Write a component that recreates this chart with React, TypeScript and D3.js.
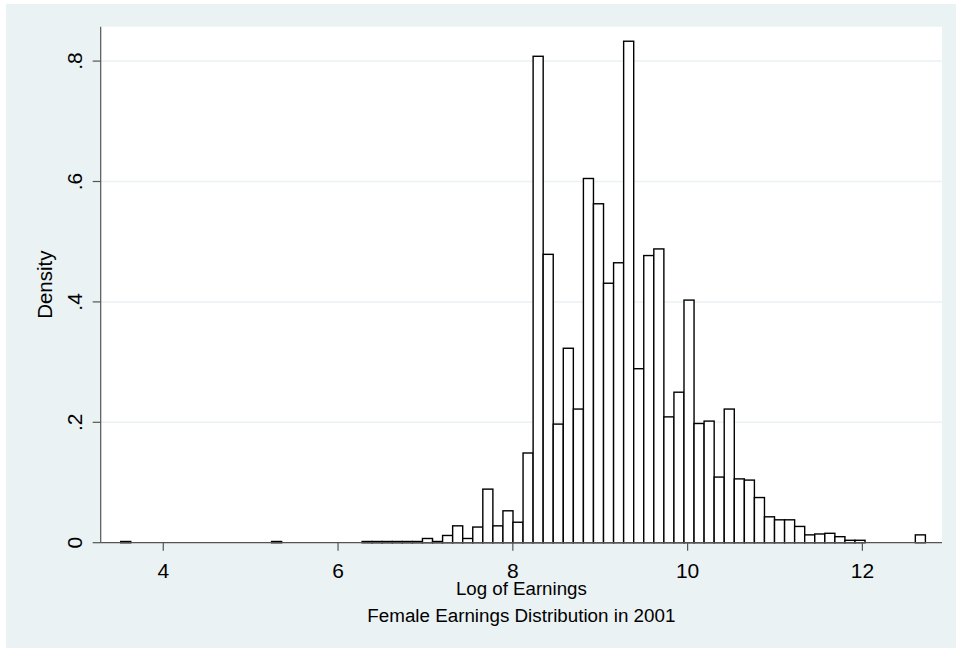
import React from "react";
import * as d3 from "d3";

// Histogram data (density per bin)
const binStart = 3.513;
const binWidth = 0.1151;
const densities = [
  0.002, 0, 0, 0, 0, 0, 0, 0, 0, 0,
  0, 0, 0, 0, 0, 0.002, 0, 0, 0, 0,
  0, 0, 0, 0, 0.002, 0.002, 0.002, 0.002, 0.002, 0.002,
  0.007, 0.002, 0.012, 0.028, 0.007, 0.026, 0.089, 0.028, 0.053, 0.034,
  0.149, 0.808, 0.479, 0.197, 0.323, 0.222, 0.605, 0.563, 0.431, 0.465,
  0.833, 0.289, 0.477, 0.488, 0.209, 0.25, 0.403, 0.198, 0.202, 0.109,
  0.222, 0.106, 0.104, 0.075, 0.043, 0.038, 0.038, 0.027, 0.013, 0.0145,
  0.0156, 0.01, 0.004, 0.004, 0, 0, 0, 0, 0, 0.013,
];
const xTicks = [4, 6, 8, 10, 12];
const yTicks = [0, 0.2, 0.4, 0.6, 0.8];
const yTickLabels = ["0", ".2", ".4", ".6", ".8"];
const xTitle = "Log of Earnings";
const yTitle = "Density";
const note = "Female Earnings Distribution in 2001";

const W = 956;
const H = 648;
const BG = "#EAF2F3";
const FONT = "'Liberation Sans', Arial, Helvetica, sans-serif";

export default function App() {
  const left = 100.7;
  const right = 942;
  const top = 26.7;
  const bottom = 542.7;
  const x = d3.scaleLinear().domain([3.284, 12.911]).range([left, right]);
  const y = d3.scaleLinear().domain([0, 0.8]).range([bottom, 61.1]);
  const cx = (left + right) / 2;

  const bins = densities
    .map((d, i) => ({ d, x0: binStart + i * binWidth, x1: binStart + (i + 1) * binWidth }))
    .filter((b) => b.d > 0);

  return (
    <svg
      width={W}
      height={H}
      style={{ position: "absolute", left: 0, top: 0 }}
      fontFamily={FONT}
    >
      <rect x={0} y={0} width={W} height={H} fill="#ffffff" />
      <rect x={6} y={4} width={W - 6} height={H - 4} fill={BG} />
      <rect x={left} y={top} width={right - left} height={bottom - top} fill="#ffffff" />
      {yTicks.slice(1).map((t) => (
        <line key={t} x1={left} x2={right} y1={y(t)} y2={y(t)} stroke={BG} strokeWidth={1.5} />
      ))}
      {bins.map((b, i) => (
        <rect
          key={i}
          x={x(b.x0)}
          y={y(b.d)}
          width={x(b.x1) - x(b.x0)}
          height={y(0) - y(b.d)}
          fill="#ffffff"
          stroke="#000000"
          strokeWidth={1.4}
        />
      ))}
      {/* axes */}
      <line x1={left} x2={left} y1={top} y2={bottom} stroke="#555" strokeWidth={1.2} />
      <line x1={left} x2={right} y1={bottom} y2={bottom} stroke="#555" strokeWidth={1.2} />
      {yTicks.map((t, i) => (
        <g key={t}>
          <line x1={left - 8} x2={left} y1={y(t)} y2={y(t)} stroke="#555" strokeWidth={1.2} />
          <text
            transform={`translate(${81.5},${y(t)}) rotate(-90)`}
            textAnchor="middle"
            fontSize={21}
            fill="#000"
          >
            {yTickLabels[i]}
          </text>
        </g>
      ))}
      {xTicks.map((t) => (
        <g key={t}>
          <line x1={x(t)} x2={x(t)} y1={bottom} y2={bottom + 8} stroke="#555" strokeWidth={1.2} />
          <text x={x(t)} y={577.5} textAnchor="middle" fontSize={21} fill="#000">
            {t}
          </text>
        </g>
      ))}
      <text
        transform={`translate(${52},${(top + bottom) / 2}) rotate(-90)`}
        textAnchor="middle"
        fontSize={20.5}
        fill="#000"
      >
        {yTitle}
      </text>
      <text x={cx} y={595} textAnchor="middle" fontSize={18.7} fill="#000">
        {xTitle}
      </text>
      <text x={cx} y={621.5} textAnchor="middle" fontSize={18.8} fill="#000">
        {note}
      </text>
    </svg>
  );
}
